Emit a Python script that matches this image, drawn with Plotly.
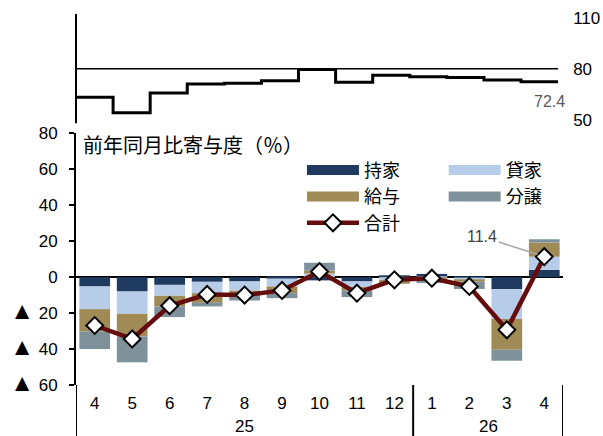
import plotly.graph_objects as go

# ---- data ----
years = ["25"] * 9 + ["26"] * 4
months = ["4", "5", "6", "7", "8", "9", "10", "11", "12", "1", "2", "3", "4"]
owned = [-5.2, -8.0, -4.3, -2.6, -2.4, -0.9, -1.8, -2.4, 0.8, 1.8, -0.3, -6.7, 4.0]
rented = [-12.6, -12.4, -6.1, -6.3, -5.2, -4.3, 2.0, -3.1, -1.5, -0.5, -1.2, -16.6, 7.4]
issued = [-12.4, -12.6, -5.9, -5.4, -2.2, -3.7, 1.6, -1.9, -2.2, -0.5, -1.1, -17.1, 7.8]
sold = [-9.8, -14.4, -5.9, -2.0, -3.2, -2.8, 4.4, -3.7, 0.0, -2.3, -4.0, -6.1, 1.9]
total = [-26.9, -34.4, -15.9, -9.6, -10.0, -7.4, 3.1, -8.9, -1.5, -0.6, -5.2, -29.3, 11.4]
level = [63.2, 54.1, 65.7, 71.0, 71.4, 72.9, 79.6, 72.0, 76.1, 75.3, 74.9, 73.4, 72.4]
level_ref = 80
top_ticks = [50, 80, 110]
y_ticks = [-60, -40, -20, 0, 20, 40, 60, 80]
y_ticktext = ["▲ 60", "▲ 40", "▲ 20", "0", "20", "40", "60", "80"]
series_names = ["持家", "貸家", "給与", "分譲"]
title_text = "前年同月比寄与度（％）"

colors = ["#1f3a5f", "#b7cce9", "#a08a56", "#7f929c"]
total_color = "#650c0c"
NUM_FONT = "Liberation Sans, Arial, sans-serif"
JP_FONT = "Noto Sans CJK JP, sans-serif"

n = len(months)
xs = list(range(n))
fig = go.Figure()

for name, vals, col in zip(series_names, [owned, rented, issued, sold], colors):
    fig.add_trace(go.Bar(x=xs, y=vals, name=name, marker=dict(color=col, line=dict(width=0)),
                         showlegend=False, xaxis="x", yaxis="y"))

fig.add_trace(go.Scatter(x=xs, y=total, name="合計", mode="lines+markers",
                         line=dict(color=total_color, width=4.5),
                         marker=dict(symbol="diamond", size=13, color="white",
                                     line=dict(color="black", width=2)),
                         legend="legend", legendrank=3, xaxis="x", yaxis="y"))

# legend-only entries (wide bar swatches)
legend_of = {"持家": ("legend", 1), "給与": ("legend", 2), "貸家": ("legend2", 1), "分譲": ("legend2", 2)}
for name, col in zip(series_names, colors):
    lg, rk = legend_of[name]
    fig.add_trace(go.Scatter(x=[None], y=[None], mode="lines", name=name,
                             line=dict(color=col, width=10), legend=lg, legendrank=rk,
                             xaxis="x", yaxis="y"))

# top step panel
step_x = [i - 0.5 for i in range(n)] + [n - 0.5]
step_y = level + [level[-1]]
fig.add_trace(go.Scatter(x=step_x, y=step_y, mode="lines", line=dict(color="black", width=3, shape="hv"),
                         showlegend=False, xaxis="x2", yaxis="y2"))

fig.add_shape(type="line", xref="x2 domain", yref="y2", x0=0, x1=1, y0=level_ref, y1=level_ref,
              line=dict(color="black", width=1.5))
fig.add_shape(type="line", xref="x2 domain", yref="y2 domain", x0=0, x1=0, y0=0, y1=1,
              line=dict(color="black", width=2))

fig.add_annotation(x=n - 1, y=level[-1], xref="x2", yref="y2", text=f"{level[-1]:.1f}",
                   showarrow=False, xshift=10, yshift=-20,
                   font=dict(family=NUM_FONT, size=16, color="#595959"))

fig.add_annotation(x=n - 1, y=total[-1], xref="x", yref="y", text=f"{total[-1]:.1f}",
                   showarrow=True, ax=-62, ay=-20, arrowhead=0, arrowwidth=1.5,
                   arrowcolor="#a6a6a6", standoff=7,
                   font=dict(family=NUM_FONT, size=16, color="#404040"))

fig.add_annotation(x=0, y=1.0, xref="x domain", yref="y domain", text=title_text,
                   showarrow=False, xanchor="left", yanchor="top", xshift=5, yshift=5,
                   font=dict(family=JP_FONT, size=20, color="black"))

# year group labels and dividers
groups = []
for i, yv in enumerate(years):
    if not groups or groups[-1][0] != yv:
        groups.append([yv, i, i])
    else:
        groups[-1][2] = i
for yv, a, b in groups:
    fig.add_annotation(x=(a + b) / 2, y=0, xref="x", yref="y domain", text=yv, showarrow=False,
                       yanchor="top", yshift=-30, font=dict(family=NUM_FONT, size=17, color="black"))
bounds = [groups[0][1] - 0.5] + [b + 0.5 for _, _, b in groups]
for bx in bounds:
    fig.add_shape(type="line", xref="x", yref="y domain", x0=bx, x1=bx, y0=0, y1=-0.21,
                  line=dict(color="black", width=2))

tri = '<span style="font-size:24px">▲</span>'
y_ticktext_html = [t.replace("▲", tri) for t in y_ticktext]

fig.update_layout(
    template="none",
    width=603, height=436,
    margin=dict(l=76, r=40, t=14, b=51),
    paper_bgcolor="white", plot_bgcolor="white",
    barmode="relative", bargap=0.18,
    font=dict(family=NUM_FONT, size=17, color="black"),
    xaxis=dict(domain=[0, 1], anchor="y", range=[-0.5, n - 0.5], tickvals=xs, ticktext=months,
               showline=False, showgrid=False, zeroline=False, ticks="", automargin=False,
               ticklabelstandoff=6, tickfont=dict(family=NUM_FONT, size=17, color="black")),
    yaxis=dict(domain=[0, 0.6784], anchor="x", range=[-60, 80], tickvals=y_ticks, ticktext=y_ticktext_html,
               showline=True, linecolor="black", linewidth=2, ticks="outside", ticklen=5,
               tickcolor="black", tickwidth=1.5, showgrid=False, zeroline=True, zerolinecolor="black",
               zerolinewidth=2, ticklabelstandoff=8, automargin=False,
               tickfont=dict(family=NUM_FONT, size=17, color="black")),
    xaxis2=dict(domain=[0, 0.99], anchor="y2", range=[-0.5, n - 0.5], visible=False, automargin=False),
    yaxis2=dict(domain=[0.7054, 1], anchor="x2", side="right", range=[47.9, 112.2], tickvals=top_ticks,
                showline=False, showgrid=False, zeroline=False, ticks="", ticklabelstandoff=14,
                automargin=False, tickfont=dict(family=NUM_FONT, size=17, color="black")),
    legend=dict(x=0.464, y=0.6285, xanchor="left", yanchor="top", bgcolor="rgba(0,0,0,0)",
                itemwidth=52, tracegroupgap=0, traceorder="normal", borderwidth=0,
                font=dict(family=JP_FONT, size=18, color="black")),
    legend2=dict(x=0.755, y=0.6285, xanchor="left", yanchor="top", bgcolor="rgba(0,0,0,0)",
                 itemwidth=52, tracegroupgap=0, traceorder="normal", borderwidth=0,
                 font=dict(family=JP_FONT, size=18, color="black")),
)

fig.write_html("out.html", config={"displayModeBar": False},
               post_script="document.body.style.margin='0';document.body.style.padding='0';")
